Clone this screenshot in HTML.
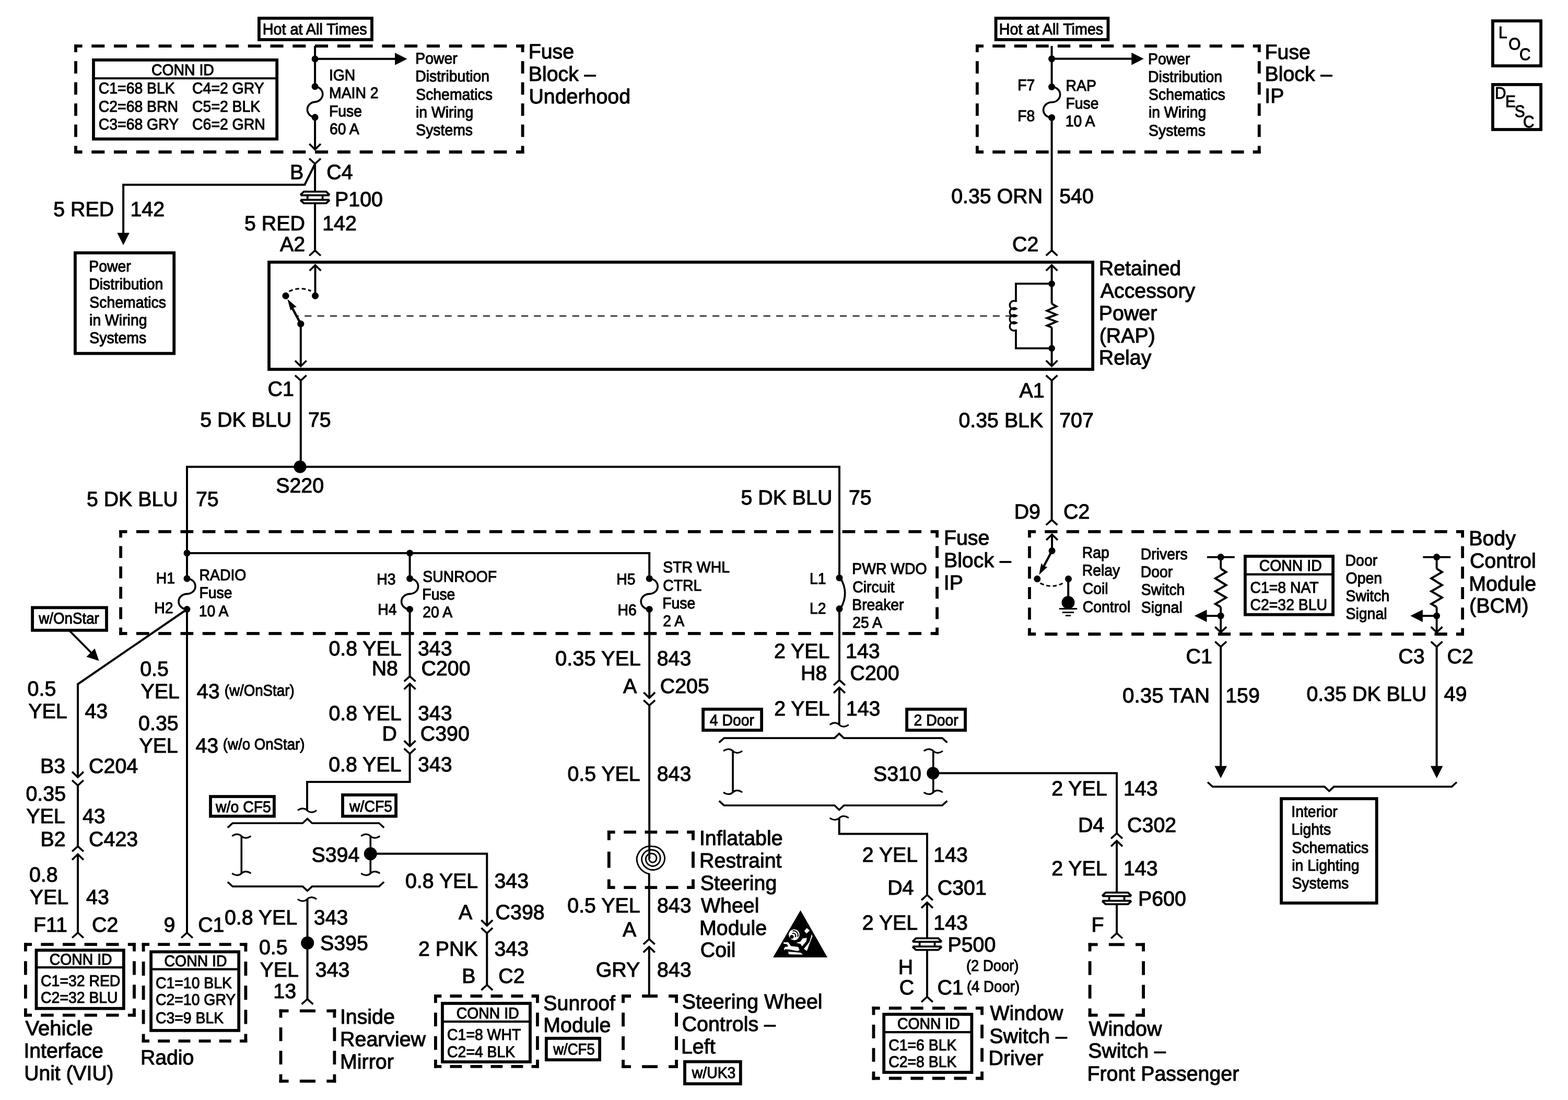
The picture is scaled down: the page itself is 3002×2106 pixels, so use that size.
<!DOCTYPE html>
<html lang="en">
<head>
<meta charset="utf-8">
<title>Retained Accessory Power (RAP) Schematic</title>
<style>
html,body{margin:0;padding:0;background:#fff;}
body{width:3002px;height:2106px;overflow:hidden;}
svg{display:block;}
svg path,svg line,svg rect{fill:none;stroke:#000;}
svg .k{fill:#000;stroke:none;}
svg .w{fill:#fff;stroke:none;}
svg text{font-family:"Liberation Sans",sans-serif;text-rendering:geometricPrecision;fill:#000;stroke:#000;stroke-width:1.1px;stroke-linejoin:round;white-space:pre;}
svg text.L{font-size:39.7px;}
svg text.S{font-size:30.0px;stroke-width:1.1px;}
svg text.M{font-size:32.0px;}
</style>
</head>
<body>
<svg width="3002" height="2106" viewBox="0 0 3002 2106">
<rect class="w" x="0" y="0" width="3002" height="2106"/>
<g id="lines">
<rect x="495.9" y="34.9" width="216.1" height="41" stroke-width="5.8"/>
<line x1="142.1" y1="88.2" x2="1003.5" y2="88.2" stroke-width="5.8" stroke-dasharray="25.03 17.75" stroke-dashoffset="9.61"/>
<line x1="142.1" y1="291" x2="1003.5" y2="291" stroke-width="5.8" stroke-dasharray="25.03 17.75" stroke-dashoffset="9.61"/>
<line x1="145" y1="85.3" x2="145" y2="293.9" stroke-width="5.8" stroke-dasharray="23.73 16.83" stroke-dashoffset="8.96"/>
<line x1="1000.6" y1="85.3" x2="1000.6" y2="293.9" stroke-width="5.8" stroke-dasharray="23.73 16.83" stroke-dashoffset="8.96"/>
<rect x="179" y="114.8" width="351.2" height="151.3" stroke-width="5.8"/>
<path d="M178.1,150 L531.1,150" stroke-width="4.2" stroke-linecap="butt" stroke-linejoin="miter"/>
<path d="M603.1,88 L603.1,165.6" stroke-width="4" stroke-linecap="butt" stroke-linejoin="miter"/>
<circle class="k" cx="603.1" cy="112.8" r="6.5"/>
<path d="M603.1,112.8 L758,112.8" stroke-width="4" stroke-linecap="butt" stroke-linejoin="miter"/>
<polygon class="k" points="756.1,101 756.1,124.6 779.6,112.8"/>
<circle class="k" cx="603.1" cy="165.6" r="6.5"/>
<circle class="k" cx="603.1" cy="224.6" r="6.5"/>
<path d="M603.1,165.6 A16,14.8 0 0 1 603.1,195.1 A16,14.8 0 0 0 603.1,224.6" stroke-width="3.6"/>
<path d="M603.1,224.6 L603.1,286.2" stroke-width="4" stroke-linecap="butt" stroke-linejoin="miter"/>
<path d="M592.2,275.5 L603.1,286.2 L614,275.5" stroke-width="3.6" stroke-linecap="butt" stroke-linejoin="miter"/>
<path d="M592.2,303.6 L603.1,313.5 L614,303.6" stroke-width="3.6" stroke-linecap="butt" stroke-linejoin="miter"/>
<path d="M603.1,313.5 L603.1,365.8" stroke-width="4" stroke-linecap="butt" stroke-linejoin="miter"/>
<path d="M575.5,373.8 L630.7,373.8" stroke-width="3.8" stroke-linecap="butt" stroke-linejoin="miter"/>
<path d="M575.1,373.4 L581.7,366.9 L624.5,366.9 L631.1,373.4" stroke-width="3.8" stroke-linecap="butt" stroke-linejoin="miter"/>
<path d="M575.5,382.7 L630.7,382.7" stroke-width="3.8" stroke-linecap="butt" stroke-linejoin="miter"/>
<path d="M575.1,383.1 L581.7,389.2 L624.5,389.2 L631.1,383.1" stroke-width="3.8" stroke-linecap="butt" stroke-linejoin="miter"/>
<path d="M588.7,373.8 L588.7,382.7" stroke-width="3.8" stroke-linecap="butt" stroke-linejoin="miter"/>
<path d="M617.6,373.8 L617.6,382.7" stroke-width="3.8" stroke-linecap="butt" stroke-linejoin="miter"/>
<path d="M603.1,390.3 L603.1,480" stroke-width="4" stroke-linecap="butt" stroke-linejoin="miter"/>
<path d="M592.2,489.5 L603.1,479.6 L614,489.5" stroke-width="3.6" stroke-linecap="butt" stroke-linejoin="miter"/>
<path d="M603.1,314 L583.3,353.7 L236.1,353.7 L236.1,447" stroke-width="4" stroke-linecap="butt" stroke-linejoin="miter"/>
<polygon class="k" points="224.3,445.8 247.9,445.8 236.1,469.3"/>
<rect x="143.9" y="484.1" width="189.3" height="192.6" stroke-width="5.8"/>
<rect x="1906.6" y="34.9" width="214.9" height="41" stroke-width="5.8"/>
<line x1="1868" y1="88.2" x2="2413.7" y2="88.2" stroke-width="5.8" stroke-dasharray="24.30 17.24" stroke-dashoffset="9.25"/>
<line x1="1868" y1="291" x2="2413.7" y2="291" stroke-width="5.8" stroke-dasharray="24.30 17.24" stroke-dashoffset="9.25"/>
<line x1="1870.9" y1="85.3" x2="1870.9" y2="293.9" stroke-width="5.8" stroke-dasharray="23.73 16.83" stroke-dashoffset="8.96"/>
<line x1="2410.8" y1="85.3" x2="2410.8" y2="293.9" stroke-width="5.8" stroke-dasharray="23.73 16.83" stroke-dashoffset="8.96"/>
<path d="M2013.6,88 L2013.6,166" stroke-width="4" stroke-linecap="butt" stroke-linejoin="miter"/>
<circle class="k" cx="2013.6" cy="112.6" r="6.5"/>
<path d="M2013.6,112.6 L2168,112.6" stroke-width="4" stroke-linecap="butt" stroke-linejoin="miter"/>
<polygon class="k" points="2166.3,100.8 2166.3,124.4 2189.8,112.6"/>
<circle class="k" cx="2013.6" cy="166.3" r="6.5"/>
<circle class="k" cx="2013.6" cy="225.2" r="6.5"/>
<path d="M2013.6,166.3 A16,14.7 0 0 1 2013.6,195.8 A16,14.7 0 0 0 2013.6,225.2" stroke-width="3.6"/>
<path d="M2013.6,225.2 L2013.6,480" stroke-width="4" stroke-linecap="butt" stroke-linejoin="miter"/>
<path d="M2002.7,489.3 L2013.6,479.4 L2024.5,489.3" stroke-width="3.6" stroke-linecap="butt" stroke-linejoin="miter"/>
<rect x="2857.9" y="40" width="92.2" height="86.1" stroke-width="5.8"/>
<rect x="2857.9" y="161.9" width="92.2" height="86.1" stroke-width="5.8"/>
<rect x="515" y="501.9" width="1577.1" height="205.2" stroke-width="5.8"/>
<path d="M592.6,518.3 L603.5,507.6 L614.4,518.3" stroke-width="3.6" stroke-linecap="butt" stroke-linejoin="miter"/>
<path d="M603.5,507.6 L603.5,566.4" stroke-width="4" stroke-linecap="butt" stroke-linejoin="miter"/>
<circle class="k" cx="603.5" cy="566.4" r="6.6"/>
<circle class="k" cx="547" cy="566.4" r="6.6"/>
<path d="M553.5,557.8 Q574.5,548.0 595.4,557.0" stroke-width="3" stroke-dasharray="7.5 5"/>
<circle class="k" cx="575.8" cy="620.1" r="6.6"/>
<path d="M575.8,620.1 L556,583" stroke-width="4.4" stroke-linecap="butt" stroke-linejoin="miter"/>
<polygon class="k" points="550.2,572.6 567.9,587.7 561.6,589.3 556.3,594.3"/>
<path d="M575.8,620.1 L575.8,701.2" stroke-width="4" stroke-linecap="butt" stroke-linejoin="miter"/>
<path d="M564.9,690.5 L575.8,701.2 L586.7,690.5" stroke-width="3.6" stroke-linecap="butt" stroke-linejoin="miter"/>
<line x1="568.3" y1="605" x2="1935" y2="605" stroke-width="2" stroke-dasharray="13.2 11.2" stroke-dashoffset="9.5"/>
<path d="M2002.7,518.3 L2013.6,507.6 L2024.5,518.3" stroke-width="3.6" stroke-linecap="butt" stroke-linejoin="miter"/>
<path d="M2013.6,507.6 L2013.6,581.5" stroke-width="4" stroke-linecap="butt" stroke-linejoin="miter"/>
<circle class="k" cx="2013.6" cy="543.2" r="6.3"/>
<circle class="k" cx="2013.6" cy="666.9" r="6.3"/>
<path d="M2013.6,543.2 L1945,543.2 L1945,578" stroke-width="3.8" stroke-linecap="butt" stroke-linejoin="miter"/>
<path d="M2013.6,666.9 L1945,666.9 L1945,631" stroke-width="3.8" stroke-linecap="butt" stroke-linejoin="miter"/>
<path d="M1946,577.3 A8.2,8.2 0 1 0 1946,590.9 A8.2,8.2 0 1 0 1946,604.5 A8.2,8.2 0 1 0 1946,618.1 A8.2,8.2 0 1 0 1946,631.7" stroke-width="3.4"/>
<path d="M2013.6,581.5 L2022.6,586.5 L2004.6,594.9 L2022.6,602.4 L2004.6,609.1 L2022.6,615.8 L2004.6,623.4 L2013.6,626.7" stroke-width="3.8" stroke-linecap="butt" stroke-linejoin="miter"/>
<path d="M2013.6,626.7 L2013.6,701" stroke-width="4" stroke-linecap="butt" stroke-linejoin="miter"/>
<path d="M2002.7,690.3 L2013.6,701 L2024.5,690.3" stroke-width="3.6" stroke-linecap="butt" stroke-linejoin="miter"/>
<path d="M564.9,718.6 L575.8,728.5 L586.7,718.6" stroke-width="3.6" stroke-linecap="butt" stroke-linejoin="miter"/>
<path d="M575.8,728.5 L575.8,893.8" stroke-width="4" stroke-linecap="butt" stroke-linejoin="miter"/>
<circle class="k" cx="574.5" cy="893.7" r="12.1"/>
<path d="M358,1058.9 L358,893.8 L1607,893.8 L1607,1106.4" stroke-width="4" stroke-linecap="butt" stroke-linejoin="miter"/>
<path d="M2002.7,718.6 L2013.6,728.5 L2024.5,718.6" stroke-width="3.6" stroke-linecap="butt" stroke-linejoin="miter"/>
<path d="M2013.6,728.5 L2013.6,996" stroke-width="4" stroke-linecap="butt" stroke-linejoin="miter"/>
<path d="M2002.7,1005.2 L2013.6,995.3 L2024.5,1005.2" stroke-width="3.6" stroke-linecap="butt" stroke-linejoin="miter"/>
<line x1="228.2" y1="1017.8" x2="1797" y2="1017.8" stroke-width="5.8" stroke-dasharray="24.71 17.53" stroke-dashoffset="9.46"/>
<line x1="228.2" y1="1212.8" x2="1797" y2="1212.8" stroke-width="5.8" stroke-dasharray="24.71 17.53" stroke-dashoffset="9.46"/>
<line x1="231.1" y1="1014.9" x2="231.1" y2="1215.7" stroke-width="5.8" stroke-dasharray="22.81 16.19" stroke-dashoffset="8.51"/>
<line x1="1794.1" y1="1014.9" x2="1794.1" y2="1215.7" stroke-width="5.8" stroke-dasharray="22.81 16.19" stroke-dashoffset="8.51"/>
<path d="M358,1058.9 L1243.2,1058.9 L1243.2,1107.7" stroke-width="4" stroke-linecap="butt" stroke-linejoin="miter"/>
<circle class="k" cx="358" cy="1058.9" r="6.5"/>
<circle class="k" cx="784.6" cy="1058.9" r="6.5"/>
<path d="M358,1058.9 L358,1107.7" stroke-width="4" stroke-linecap="butt" stroke-linejoin="miter"/>
<path d="M784.6,1058.9 L784.6,1107.7" stroke-width="4" stroke-linecap="butt" stroke-linejoin="miter"/>
<circle class="k" cx="358" cy="1107.7" r="6.5"/>
<circle class="k" cx="358" cy="1166.5" r="6.5"/>
<path d="M358,1107.7 A16,14.7 0 0 1 358,1137.1 A16,14.7 0 0 0 358,1166.5" stroke-width="3.6"/>
<circle class="k" cx="784.6" cy="1107.7" r="6.5"/>
<circle class="k" cx="784.6" cy="1166.5" r="6.5"/>
<path d="M784.6,1107.7 A16,14.7 0 0 1 784.6,1137.1 A16,14.7 0 0 0 784.6,1166.5" stroke-width="3.6"/>
<circle class="k" cx="1243.2" cy="1107.7" r="6.5"/>
<circle class="k" cx="1243.2" cy="1166.5" r="6.5"/>
<path d="M1243.2,1107.7 A16,14.7 0 0 1 1243.2,1137.1 A16,14.7 0 0 0 1243.2,1166.5" stroke-width="3.6"/>
<circle class="k" cx="1607" cy="1106.4" r="6.5"/>
<circle class="k" cx="1607" cy="1165.6" r="6.5"/>
<path d="M1609,1106.4 Q1626.5,1136 1609,1165.6" stroke-width="3.6"/>
<rect x="62.1" y="1163.3" width="141.9" height="43.4" stroke-width="5.8"/>
<path d="M133.5,1208 L177,1252" stroke-width="3.8" stroke-linecap="butt" stroke-linejoin="miter"/>
<polygon class="k" points="189.5,1265.3 165.5,1257.5 181.5,1241.5"/>
<path d="M358,1166.5 L358,1786" stroke-width="4" stroke-linecap="butt" stroke-linejoin="miter"/>
<path d="M347.1,1795.5 L358,1785.6 L368.9,1795.5" stroke-width="3.6" stroke-linecap="butt" stroke-linejoin="miter"/>
<path d="M358,1166.5 L149,1309.8 L149,1488.3" stroke-width="4" stroke-linecap="butt" stroke-linejoin="miter"/>
<path d="M138.1,1477.6 L149,1488.3 L159.9,1477.6" stroke-width="3.6" stroke-linecap="butt" stroke-linejoin="miter"/>
<path d="M138.1,1493.9 L149,1503.8 L159.9,1493.9" stroke-width="3.6" stroke-linecap="butt" stroke-linejoin="miter"/>
<path d="M149,1503.8 L149,1620.8" stroke-width="4" stroke-linecap="butt" stroke-linejoin="miter"/>
<path d="M138.1,1630.2 L149,1620.3 L159.9,1630.2" stroke-width="3.6" stroke-linecap="butt" stroke-linejoin="miter"/>
<path d="M138.1,1646.1 L149,1635.4 L159.9,1646.1" stroke-width="3.6" stroke-linecap="butt" stroke-linejoin="miter"/>
<path d="M149,1635.4 L149,1786" stroke-width="4" stroke-linecap="butt" stroke-linejoin="miter"/>
<path d="M138.1,1795.5 L149,1785.6 L159.9,1795.5" stroke-width="3.6" stroke-linecap="butt" stroke-linejoin="miter"/>
<line x1="46" y1="1808.2" x2="259.9" y2="1808.2" stroke-width="5.8" stroke-dasharray="24.35 17.27" stroke-dashoffset="9.27"/>
<line x1="46" y1="1943.6" x2="259.9" y2="1943.6" stroke-width="5.8" stroke-dasharray="24.35 17.27" stroke-dashoffset="9.27"/>
<line x1="48.9" y1="1805.3" x2="48.9" y2="1946.5" stroke-width="5.8" stroke-dasharray="26.40 18.73" stroke-dashoffset="10.30"/>
<line x1="257" y1="1805.3" x2="257" y2="1946.5" stroke-width="5.8" stroke-dasharray="26.40 18.73" stroke-dashoffset="10.30"/>
<rect x="69.5" y="1819.2" width="167.3" height="111.6" stroke-width="5.8"/>
<path d="M68.6,1852.2 L237.7,1852.2" stroke-width="4.2" stroke-linecap="butt" stroke-linejoin="miter"/>
<line x1="271.7" y1="1808.2" x2="473.3" y2="1808.2" stroke-width="5.8" stroke-dasharray="22.91 16.25" stroke-dashoffset="8.55"/>
<line x1="271.7" y1="1993.1" x2="473.3" y2="1993.1" stroke-width="5.8" stroke-dasharray="22.91 16.25" stroke-dashoffset="8.55"/>
<line x1="274.6" y1="1805.3" x2="274.6" y2="1996" stroke-width="5.8" stroke-dasharray="27.04 19.18" stroke-dashoffset="10.62"/>
<line x1="470.4" y1="1805.3" x2="470.4" y2="1996" stroke-width="5.8" stroke-dasharray="27.04 19.18" stroke-dashoffset="10.62"/>
<rect x="289.1" y="1822.3" width="168.1" height="150.6" stroke-width="5.8"/>
<path d="M288.2,1855.7 L458.1,1855.7" stroke-width="4.2" stroke-linecap="butt" stroke-linejoin="miter"/>
<path d="M784.6,1166.5 L784.6,1295.5" stroke-width="4" stroke-linecap="butt" stroke-linejoin="miter"/>
<path d="M773.7,1304.7 L784.6,1294.8 L795.5,1304.7" stroke-width="3.6" stroke-linecap="butt" stroke-linejoin="miter"/>
<path d="M773.7,1319.6 L784.6,1308.9 L795.5,1319.6" stroke-width="3.6" stroke-linecap="butt" stroke-linejoin="miter"/>
<path d="M784.6,1308.9 L784.6,1428.8" stroke-width="4" stroke-linecap="butt" stroke-linejoin="miter"/>
<path d="M773.7,1418.1 L784.6,1428.8 L795.5,1418.1" stroke-width="3.6" stroke-linecap="butt" stroke-linejoin="miter"/>
<path d="M773.7,1433.1 L784.6,1443 L795.5,1433.1" stroke-width="3.6" stroke-linecap="butt" stroke-linejoin="miter"/>
<path d="M784.6,1443 L784.6,1497 L588,1497 L588,1551" stroke-width="4" stroke-linecap="butt" stroke-linejoin="miter"/>
<path d="M571,1550.8 C577.5,1546.2 584.6,1547.7 588,1551.5 S598.5,1556.8 605,1552.2" stroke-width="3.2" stroke-linecap="round"/>
<rect x="403" y="1525" width="121.9" height="37.7" stroke-width="5.8"/>
<rect x="656" y="1521.9" width="102.1" height="40.8" stroke-width="5.8"/>
<path d="M435.8,1584.6 L445.3,1576 L579.5,1576 L588.5,1567.5 L597.5,1576 L725.7,1576 L735.2,1584.6" stroke-width="3.6" stroke-linecap="butt" stroke-linejoin="miter"/>
<path d="M462.3,1600.7 L462.3,1672.1" stroke-width="3.6" stroke-linecap="butt" stroke-linejoin="miter"/>
<path d="M445.3,1600 C451.8,1595.5 458.9,1596.9 462.3,1600.7 S472.8,1606 479.3,1601.4" stroke-width="3.2" stroke-linecap="round"/>
<path d="M445.3,1672.8 C451.8,1677.3 458.9,1675.9 462.3,1672.1 S472.8,1666.8 479.3,1671.4" stroke-width="3.2" stroke-linecap="round"/>
<path d="M709.3,1600.7 L709.3,1672.1" stroke-width="3.6" stroke-linecap="butt" stroke-linejoin="miter"/>
<path d="M692.3,1600 C698.8,1595.5 705.9,1596.9 709.3,1600.7 S719.8,1606 726.3,1601.4" stroke-width="3.2" stroke-linecap="round"/>
<path d="M692.3,1672.8 C698.8,1677.3 705.9,1675.9 709.3,1672.1 S719.8,1666.8 726.3,1671.4" stroke-width="3.2" stroke-linecap="round"/>
<circle class="k" cx="709.3" cy="1634.6" r="12.5"/>
<path d="M435.8,1688.5 L445.3,1697.1 L579.5,1697.1 L588.5,1705.6 L597.5,1697.1 L725.7,1697.1 L735.2,1688.5" stroke-width="3.6" stroke-linecap="butt" stroke-linejoin="miter"/>
<path d="M571,1722.2 C577.5,1726.8 584.6,1725.3 588,1721.5 S598.5,1716.2 605,1720.8" stroke-width="3.2" stroke-linecap="round"/>
<path d="M588.5,1721.5 L588.5,1913" stroke-width="4" stroke-linecap="butt" stroke-linejoin="miter"/>
<circle class="k" cx="588.7" cy="1805.3" r="12.5"/>
<path d="M577.6,1922.6 L588.5,1912.7 L599.4,1922.6" stroke-width="3.6" stroke-linecap="butt" stroke-linejoin="miter"/>
<line x1="534.6" y1="1935.3" x2="643.3" y2="1935.3" stroke-width="5.8" stroke-dasharray="30.10 21.35" stroke-dashoffset="12.15"/>
<line x1="534.6" y1="2069.8" x2="643.3" y2="2069.8" stroke-width="5.8" stroke-dasharray="30.10 21.35" stroke-dashoffset="12.15"/>
<line x1="537.5" y1="1932.4" x2="537.5" y2="2072.7" stroke-width="5.8" stroke-dasharray="26.23 18.61" stroke-dashoffset="10.21"/>
<line x1="640.4" y1="1932.4" x2="640.4" y2="2072.7" stroke-width="5.8" stroke-dasharray="26.23 18.61" stroke-dashoffset="10.21"/>
<path d="M709.3,1634.4 L932.3,1634.4 L932.3,1772.3" stroke-width="4" stroke-linecap="butt" stroke-linejoin="miter"/>
<path d="M921.4,1761.6 L932.3,1772.3 L943.2,1761.6" stroke-width="3.6" stroke-linecap="butt" stroke-linejoin="miter"/>
<path d="M921.4,1776.6 L932.3,1786.5 L943.2,1776.6" stroke-width="3.6" stroke-linecap="butt" stroke-linejoin="miter"/>
<path d="M932.3,1786.5 L932.3,1886" stroke-width="4" stroke-linecap="butt" stroke-linejoin="miter"/>
<path d="M921.4,1895.6 L932.3,1885.7 L943.2,1895.6" stroke-width="3.6" stroke-linecap="butt" stroke-linejoin="miter"/>
<line x1="831" y1="1907" x2="1031.9" y2="1907" stroke-width="5.8" stroke-dasharray="22.83 16.19" stroke-dashoffset="8.51"/>
<line x1="831" y1="2041.8" x2="1031.9" y2="2041.8" stroke-width="5.8" stroke-dasharray="22.83 16.19" stroke-dashoffset="8.51"/>
<line x1="833.9" y1="1904.1" x2="833.9" y2="2044.7" stroke-width="5.8" stroke-dasharray="26.29 18.65" stroke-dashoffset="10.24"/>
<line x1="1029" y1="1904.1" x2="1029" y2="2044.7" stroke-width="5.8" stroke-dasharray="26.29 18.65" stroke-dashoffset="10.24"/>
<rect x="847" y="1921" width="168" height="112" stroke-width="5.8"/>
<path d="M846.1,1955.9 L1015.9,1955.9" stroke-width="4.2" stroke-linecap="butt" stroke-linejoin="miter"/>
<rect x="1045.9" y="1987.9" width="102.2" height="41.2" stroke-width="5.8"/>
<path d="M1243.2,1166.5 L1243.2,1336.3" stroke-width="4" stroke-linecap="butt" stroke-linejoin="miter"/>
<path d="M1232.3,1325.6 L1243.2,1336.3 L1254.1,1325.6" stroke-width="3.6" stroke-linecap="butt" stroke-linejoin="miter"/>
<path d="M1232.3,1340.6 L1243.2,1350.5 L1254.1,1340.6" stroke-width="3.6" stroke-linecap="butt" stroke-linejoin="miter"/>
<path d="M1243.2,1350.5 L1243.2,1644" stroke-width="4" stroke-linecap="butt" stroke-linejoin="miter"/>
<line x1="1162.9" y1="1593.1" x2="1329.9" y2="1593.1" stroke-width="5.8" stroke-dasharray="23.58 16.72" stroke-dashoffset="8.89"/>
<line x1="1162.9" y1="1699.1" x2="1329.9" y2="1699.1" stroke-width="5.8" stroke-dasharray="23.58 16.72" stroke-dashoffset="8.89"/>
<line x1="1165.8" y1="1590.2" x2="1165.8" y2="1702" stroke-width="5.8" stroke-dasharray="31.00 21.99" stroke-dashoffset="12.60"/>
<line x1="1327" y1="1590.2" x2="1327" y2="1702" stroke-width="5.8" stroke-dasharray="31.00 21.99" stroke-dashoffset="12.60"/>
<path d="M1242.9,1673.2 L1240.0,1672.5 L1237.3,1671.4 L1234.6,1670.1 L1232.1,1668.5 L1229.8,1666.7 L1227.6,1664.7 L1225.7,1662.5 L1223.9,1660.1 L1222.5,1657.6 L1221.2,1654.9 L1220.3,1652.1 L1219.6,1649.2 L1219.2,1646.3 L1219.1,1643.4 L1219.8,1640.1 L1220.8,1636.9 L1222.2,1633.9 L1223.9,1631.2 L1225.9,1628.7 L1228.1,1626.5 L1230.5,1624.6 L1233.0,1623.1 L1235.7,1621.8 L1238.4,1620.9 L1241.2,1620.3 L1243.9,1620.0 L1246.6,1620.1 L1249.2,1620.5 L1251.8,1620.6 L1254.4,1621.0 L1256.9,1621.7 L1259.3,1622.6 L1261.5,1623.9 L1263.7,1625.3 L1265.6,1627.0 L1267.4,1628.9 L1268.9,1631.0 L1270.2,1633.3 L1271.2,1635.7 L1272.0,1638.2 L1272.5,1640.8 L1272.6,1643.4 L1272.4,1646.0 L1271.9,1648.6 L1271.1,1651.0 L1270.0,1653.4 L1268.7,1655.6 L1267.1,1657.6 L1265.3,1659.5 L1263.4,1661.1 L1261.3,1662.5 L1259.0,1663.7 L1256.6,1664.5 L1254.2,1665.1 L1251.7,1665.5 L1249.2,1665.5 L1246.8,1665.3 L1244.4,1664.8 L1242.1,1664.0 L1239.8,1662.9 L1237.8,1661.7 L1235.9,1660.2 L1234.1,1658.5 L1232.6,1656.7 L1231.3,1654.7 L1230.3,1652.5 L1229.5,1650.3 L1228.9,1648.0 L1228.6,1645.7 L1228.6,1643.4 L1229.0,1641.1 L1229.7,1638.9 L1230.7,1636.9 L1231.8,1635.0 L1233.1,1633.3 L1234.6,1631.7 L1236.2,1630.4 L1238.0,1629.3 L1239.8,1628.4 L1241.7,1627.7 L1243.6,1627.3 L1245.5,1627.0 L1247.4,1627.0 L1249.2,1627.3 L1251.0,1627.5 L1252.8,1627.8 L1254.5,1628.4 L1256.1,1629.2 L1257.6,1630.1 L1259.0,1631.2 L1260.2,1632.4 L1261.3,1633.8 L1262.2,1635.3 L1263.0,1636.8 L1263.5,1638.4 L1263.9,1640.1 L1264.1,1641.7 L1264.1,1643.4 L1264.0,1645.1 L1263.7,1646.7 L1263.3,1648.3 L1262.6,1649.8 L1261.8,1651.3 L1260.9,1652.7 L1259.7,1653.9 L1258.5,1655.0 L1257.1,1656.0 L1255.7,1656.8 L1254.2,1657.4 L1252.6,1657.9 L1250.9,1658.2 L1249.2,1658.2 L1247.6,1658.0 L1246.0,1657.6 L1244.5,1657.0 L1243.0,1656.3 L1241.7,1655.4 L1240.5,1654.4 L1239.4,1653.2 L1238.5,1652.0 L1237.7,1650.6 L1237.1,1649.2 L1236.7,1647.8 L1236.4,1646.3 L1236.3,1644.9 L1236.3,1643.4 L1236.7,1642.0 L1237.2,1640.7 L1237.8,1639.4 L1238.6,1638.3 L1239.5,1637.3 L1240.5,1636.4 L1241.5,1635.6 L1242.6,1635.0 L1243.7,1634.6 L1244.8,1634.3 L1246.0,1634.1 L1247.1,1634.1 L1248.2,1634.1 L1249.2,1634.4 L1250.3,1634.5 L1251.2,1634.8 L1252.1,1635.2 L1253.0,1635.6 L1253.8,1636.2 L1254.5,1636.8 L1255.1,1637.5 L1255.7,1638.3 L1256.1,1639.1 L1256.5,1639.9 L1256.7,1640.8 L1256.8,1641.7 L1256.9,1642.5 L1256.8,1643.4 L1256.8,1644.3 L1256.7,1645.1 L1256.4,1645.9 L1256.1,1646.7 L1255.7,1647.5 L1255.2,1648.2 L1254.7,1648.8 L1254.0,1649.4 L1253.3,1649.9 L1252.6,1650.3 L1251.8,1650.7 L1251.0,1650.9 L1250.1,1651.1 L1249.2,1651.1 L1248.4,1651.0 L1247.6,1650.8 L1246.8,1650.5 L1246.0,1650.0 L1245.4,1649.6 L1244.8,1649.0 L1244.2,1648.4 L1243.8,1647.8 L1243.4,1647.1 L1243.1,1646.4 L1242.9,1645.6 L1242.8,1644.9 L1242.7,1644.1 L1242.8,1643.4" stroke-width="2.9" stroke-linejoin="round" stroke-linecap="round"/>
<path d="M1242.8,1672.5 L1242.8,1798.5" stroke-width="4" stroke-linecap="butt" stroke-linejoin="miter"/>
<path d="M1231.9,1807.9 L1242.8,1798 L1253.7,1807.9" stroke-width="3.6" stroke-linecap="butt" stroke-linejoin="miter"/>
<path d="M1231.9,1823.4 L1242.8,1812.7 L1253.7,1823.4" stroke-width="3.6" stroke-linecap="butt" stroke-linejoin="miter"/>
<path d="M1242.8,1812.7 L1242.8,1907" stroke-width="4" stroke-linecap="butt" stroke-linejoin="miter"/>
<line x1="1190.2" y1="1907" x2="1298" y2="1907" stroke-width="5.8" stroke-dasharray="29.83 21.16" stroke-dashoffset="12.02"/>
<line x1="1190.2" y1="2042.1" x2="1298" y2="2042.1" stroke-width="5.8" stroke-dasharray="29.83 21.16" stroke-dashoffset="12.02"/>
<line x1="1193.1" y1="1904.1" x2="1193.1" y2="2045" stroke-width="5.8" stroke-dasharray="26.34 18.69" stroke-dashoffset="10.27"/>
<line x1="1295.1" y1="1904.1" x2="1295.1" y2="2045" stroke-width="5.8" stroke-dasharray="26.34 18.69" stroke-dashoffset="10.27"/>
<rect x="1311" y="2032.6" width="106.8" height="42.4" stroke-width="5.8"/>
<polygon class="k" points="1532.6,1742.8 1584.1,1833 1480,1833"/>
<g class="w"><circle cx="1520.4" cy="1789.6" r="10.4"/><polygon points="1544.7,1776.8 1550.3,1781.6 1544,1787.2 1539.8,1782.2"/><polygon points="1536.9,1796.5 1544.7,1795.6 1543.9,1801.7 1535.6,1811.7 1532.6,1806.9 1524,1805 1532,1803"/><polygon points="1553.9,1789.1 1555.6,1792.1 1544.7,1820.8 1539.1,1816.5 1550,1803"/><polygon points="1500,1803.9 1509.1,1803.9 1514.3,1811.3 1528.2,1813 1530.8,1819.1 1526.5,1820.8 1510.8,1817.8 1503,1817.3 1502.1,1820 1500.8,1816.5 1503,1813 1509.1,1812.1 1506.5,1807.4 1500.4,1806.9"/><polygon points="1509.1,1822.1 1533.4,1823.9 1536.9,1827.8 1510,1826.9"/></g>
<g><path d="M1517.6,1782.2 A8.4,8.4 0 0 1 1527.2,1793.4" stroke-width="2"/><path d="M1516.6,1787.2 A4.8,4.8 0 0 1 1522.6,1794.2" stroke-width="2"/><circle class="k" cx="1516" cy="1793.6" r="3.6"/><path d="M1515,1795 L1509.5,1799.5" stroke-width="2.6"/></g>
<path d="M1607,1165.6 L1607,1302.5" stroke-width="4" stroke-linecap="butt" stroke-linejoin="miter"/>
<path d="M1596.1,1311.9 L1607,1302 L1617.9,1311.9" stroke-width="3.6" stroke-linecap="butt" stroke-linejoin="miter"/>
<path d="M1596.1,1326.9 L1607,1316.2 L1617.9,1326.9" stroke-width="3.6" stroke-linecap="butt" stroke-linejoin="miter"/>
<path d="M1607,1316.2 L1606.7,1387" stroke-width="4" stroke-linecap="butt" stroke-linejoin="miter"/>
<path d="M1589.7,1386.8 C1596.2,1382.2 1603.3,1383.7 1606.7,1387.5 S1617.2,1392.8 1623.7,1388.2" stroke-width="3.2" stroke-linecap="round"/>
<rect x="1346.1" y="1357.8" width="112" height="40.2" stroke-width="5.8"/>
<rect x="1736.1" y="1357.8" width="112" height="40.2" stroke-width="5.8"/>
<path d="M1376.7,1421.7 L1386.2,1413.1 L1597.7,1413.1 L1606.7,1404.6 L1615.7,1413.1 L1803.9,1413.1 L1813.4,1421.7" stroke-width="3.6" stroke-linecap="butt" stroke-linejoin="miter"/>
<path d="M1403.1,1437.8 L1403.1,1516.9" stroke-width="3.6" stroke-linecap="butt" stroke-linejoin="miter"/>
<path d="M1386.1,1437.1 C1392.6,1432.5 1399.7,1434 1403.1,1437.8 S1413.6,1443 1420.1,1438.5" stroke-width="3.2" stroke-linecap="round"/>
<path d="M1386.1,1517.6 C1392.6,1522.2 1399.7,1520.8 1403.1,1516.9 S1413.6,1511.7 1420.1,1516.2" stroke-width="3.2" stroke-linecap="round"/>
<path d="M1786.8,1437.8 L1786.8,1516.9" stroke-width="3.6" stroke-linecap="butt" stroke-linejoin="miter"/>
<path d="M1769.8,1437.1 C1776.3,1432.5 1783.4,1434 1786.8,1437.8 S1797.3,1443 1803.8,1438.5" stroke-width="3.2" stroke-linecap="round"/>
<path d="M1769.8,1517.6 C1776.3,1522.2 1783.4,1520.8 1786.8,1516.9 S1797.3,1511.7 1803.8,1516.2" stroke-width="3.2" stroke-linecap="round"/>
<circle class="k" cx="1786.3" cy="1480.2" r="12"/>
<path d="M1376.7,1533.4 L1386.2,1542 L1597.7,1542 L1606.7,1550.5 L1615.7,1542 L1803.9,1542 L1813.4,1533.4" stroke-width="3.6" stroke-linecap="butt" stroke-linejoin="miter"/>
<path d="M1589.7,1566.7 C1596.2,1571.2 1603.3,1569.8 1606.7,1566 S1617.2,1560.8 1623.7,1565.3" stroke-width="3.2" stroke-linecap="round"/>
<path d="M1606.7,1566 L1606.7,1596.6 L1775,1596.6 L1775,1714" stroke-width="4" stroke-linecap="butt" stroke-linejoin="miter"/>
<path d="M1764.1,1723.4 L1775,1713.5 L1785.9,1723.4" stroke-width="3.6" stroke-linecap="butt" stroke-linejoin="miter"/>
<path d="M1764.1,1738.4 L1775,1727.7 L1785.9,1738.4" stroke-width="3.6" stroke-linecap="butt" stroke-linejoin="miter"/>
<path d="M1775,1727.7 L1775,1795.2" stroke-width="4" stroke-linecap="butt" stroke-linejoin="miter"/>
<path d="M1747.4,1803.2 L1802.6,1803.2" stroke-width="3.8" stroke-linecap="butt" stroke-linejoin="miter"/>
<path d="M1747,1802.8 L1753.6,1796.3 L1796.4,1796.3 L1803,1802.8" stroke-width="3.8" stroke-linecap="butt" stroke-linejoin="miter"/>
<path d="M1747.4,1812.1 L1802.6,1812.1" stroke-width="3.8" stroke-linecap="butt" stroke-linejoin="miter"/>
<path d="M1747,1812.5 L1753.6,1818.6 L1796.4,1818.6 L1803,1812.5" stroke-width="3.8" stroke-linecap="butt" stroke-linejoin="miter"/>
<path d="M1760.6,1803.2 L1760.6,1812.1" stroke-width="3.8" stroke-linecap="butt" stroke-linejoin="miter"/>
<path d="M1789.5,1803.2 L1789.5,1812.1" stroke-width="3.8" stroke-linecap="butt" stroke-linejoin="miter"/>
<path d="M1775,1819.8 L1775,1909" stroke-width="4" stroke-linecap="butt" stroke-linejoin="miter"/>
<path d="M1764.1,1918.4 L1775,1908.5 L1785.9,1918.4" stroke-width="3.6" stroke-linecap="butt" stroke-linejoin="miter"/>
<line x1="1669.6" y1="1930.1" x2="1883" y2="1930.1" stroke-width="5.8" stroke-dasharray="24.29 17.23" stroke-dashoffset="9.24"/>
<line x1="1669.6" y1="2064.5" x2="1883" y2="2064.5" stroke-width="5.8" stroke-dasharray="24.29 17.23" stroke-dashoffset="9.24"/>
<line x1="1672.5" y1="1927.2" x2="1672.5" y2="2067.4" stroke-width="5.8" stroke-dasharray="26.21 18.59" stroke-dashoffset="10.20"/>
<line x1="1880.1" y1="1927.2" x2="1880.1" y2="2067.4" stroke-width="5.8" stroke-dasharray="26.21 18.59" stroke-dashoffset="10.20"/>
<rect x="1692.2" y="1941.9" width="168.2" height="111.2" stroke-width="5.8"/>
<path d="M1691.3,1976.2 L1861.3,1976.2" stroke-width="4.2" stroke-linecap="butt" stroke-linejoin="miter"/>
<path d="M1786.3,1480.2 L2138.1,1480.2 L2138.1,1596" stroke-width="4" stroke-linecap="butt" stroke-linejoin="miter"/>
<path d="M2127.2,1605.4 L2138.1,1595.5 L2149,1605.4" stroke-width="3.6" stroke-linecap="butt" stroke-linejoin="miter"/>
<path d="M2127.2,1620.4 L2138.1,1609.7 L2149,1620.4" stroke-width="3.6" stroke-linecap="butt" stroke-linejoin="miter"/>
<path d="M2138.1,1609.7 L2138.1,1707.7" stroke-width="4" stroke-linecap="butt" stroke-linejoin="miter"/>
<path d="M2110.5,1715.7 L2165.7,1715.7" stroke-width="3.8" stroke-linecap="butt" stroke-linejoin="miter"/>
<path d="M2110.1,1715.3 L2116.7,1708.8 L2159.5,1708.8 L2166.1,1715.3" stroke-width="3.8" stroke-linecap="butt" stroke-linejoin="miter"/>
<path d="M2110.5,1724.6 L2165.7,1724.6" stroke-width="3.8" stroke-linecap="butt" stroke-linejoin="miter"/>
<path d="M2110.1,1725 L2116.7,1731.1 L2159.5,1731.1 L2166.1,1725" stroke-width="3.8" stroke-linecap="butt" stroke-linejoin="miter"/>
<path d="M2123.7,1715.7 L2123.7,1724.6" stroke-width="3.8" stroke-linecap="butt" stroke-linejoin="miter"/>
<path d="M2152.6,1715.7 L2152.6,1724.6" stroke-width="3.8" stroke-linecap="butt" stroke-linejoin="miter"/>
<path d="M2138.1,1732.3 L2138.1,1787" stroke-width="4" stroke-linecap="butt" stroke-linejoin="miter"/>
<path d="M2127.2,1796.5 L2138.1,1786.6 L2149,1796.5" stroke-width="3.6" stroke-linecap="butt" stroke-linejoin="miter"/>
<line x1="2083.7" y1="1808.4" x2="2192" y2="1808.4" stroke-width="5.8" stroke-dasharray="29.98 21.27" stroke-dashoffset="12.09"/>
<line x1="2083.7" y1="1943.7" x2="2192" y2="1943.7" stroke-width="5.8" stroke-dasharray="29.98 21.27" stroke-dashoffset="12.09"/>
<line x1="2086.6" y1="1805.5" x2="2086.6" y2="1946.6" stroke-width="5.8" stroke-dasharray="26.38 18.72" stroke-dashoffset="10.29"/>
<line x1="2189.1" y1="1805.5" x2="2189.1" y2="1946.6" stroke-width="5.8" stroke-dasharray="26.38 18.72" stroke-dashoffset="10.29"/>
<line x1="1968.1" y1="1017.9" x2="2803" y2="1017.9" stroke-width="5.8" stroke-dasharray="24.25 17.20" stroke-dashoffset="9.23"/>
<line x1="1968.1" y1="1214" x2="2803" y2="1214" stroke-width="5.8" stroke-dasharray="24.25 17.20" stroke-dashoffset="9.23"/>
<line x1="1971" y1="1015" x2="1971" y2="1216.9" stroke-width="5.8" stroke-dasharray="22.94 16.28" stroke-dashoffset="8.57"/>
<line x1="2800.1" y1="1015" x2="2800.1" y2="1216.9" stroke-width="5.8" stroke-dasharray="22.94 16.28" stroke-dashoffset="8.57"/>
<path d="M2003.2,1033.9 L2014.1,1023.2 L2025,1033.9" stroke-width="3.6" stroke-linecap="butt" stroke-linejoin="miter"/>
<path d="M2014.1,1023.2 L2014.1,1054.6" stroke-width="4" stroke-linecap="butt" stroke-linejoin="miter"/>
<circle class="k" cx="2014.1" cy="1054.6" r="6.5"/>
<circle class="k" cx="1985.8" cy="1108.3" r="6.5"/>
<circle class="k" cx="2045.5" cy="1108.3" r="6.5"/>
<path d="M2014.1,1054.6 L1995,1090.5" stroke-width="4.2" stroke-linecap="butt" stroke-linejoin="miter"/>
<polygon class="k" points="1989.3,1100.6 1993.5,1078.2 1998.4,1084 2005.3,1085.5"/>
<path d="M1991.5,1116.5 Q2014.6,1128.5 2039,1114.5" stroke-width="3" stroke-dasharray="7.5 5"/>
<path d="M2045.2,1108.3 L2045.2,1153.5" stroke-width="4" stroke-linecap="butt" stroke-linejoin="miter"/>
<circle class="k" cx="2045" cy="1153.5" r="12.5"/>
<path d="M2027.9,1165.6 L2062.2,1165.6" stroke-width="3" stroke-linecap="butt" stroke-linejoin="miter"/>
<path d="M2033.9,1172.5 L2056,1172.5" stroke-width="3" stroke-linecap="butt" stroke-linejoin="miter"/>
<path d="M2039.9,1178.5 L2050,1178.5" stroke-width="3" stroke-linecap="butt" stroke-linejoin="miter"/>
<path d="M2310.9,1066.6 L2363.8,1066.6" stroke-width="3.9" stroke-linecap="butt" stroke-linejoin="miter"/>
<circle class="k" cx="2337.2" cy="1066.6" r="6.5"/>
<path d="M2337.2,1066.6 L2337.2,1088.8" stroke-width="3.9" stroke-linecap="butt" stroke-linejoin="miter"/>
<path d="M2337.2,1088.8 L2347.5,1095.2 L2326.9,1107.3 L2347.5,1120.2 L2326.9,1132 L2347.5,1144.1 L2326.9,1156.2 L2337.2,1162.2" stroke-width="4" stroke-linecap="butt" stroke-linejoin="miter"/>
<path d="M2337.2,1162.2 L2337.2,1210.8" stroke-width="3.9" stroke-linecap="butt" stroke-linejoin="miter"/>
<circle class="k" cx="2337.2" cy="1179.1" r="6.5"/>
<path d="M2337.2,1179.1 L2310.2,1179.1" stroke-width="3.9" stroke-linecap="butt" stroke-linejoin="miter"/>
<polygon class="k" points="2310.5,1167.2 2310.5,1191 2286.8,1179.1"/>
<path d="M2326.3,1200.1 L2337.2,1210.8 L2348.1,1200.1" stroke-width="3.6" stroke-linecap="butt" stroke-linejoin="miter"/>
<path d="M2326.3,1228.4 L2337.2,1238.3 L2348.1,1228.4" stroke-width="3.6" stroke-linecap="butt" stroke-linejoin="miter"/>
<path d="M2337.2,1238.3 L2337.2,1467" stroke-width="4" stroke-linecap="butt" stroke-linejoin="miter"/>
<polygon class="k" points="2325.4,1466.4 2349,1466.4 2337.2,1489.9"/>
<path d="M2724.3,1066.6 L2777.2,1066.6" stroke-width="3.9" stroke-linecap="butt" stroke-linejoin="miter"/>
<circle class="k" cx="2750.6" cy="1066.6" r="6.5"/>
<path d="M2750.6,1066.6 L2750.6,1088.8" stroke-width="3.9" stroke-linecap="butt" stroke-linejoin="miter"/>
<path d="M2750.6,1088.8 L2760.9,1095.2 L2740.3,1107.3 L2760.9,1120.2 L2740.3,1132 L2760.9,1144.1 L2740.3,1156.2 L2750.6,1162.2" stroke-width="4" stroke-linecap="butt" stroke-linejoin="miter"/>
<path d="M2750.6,1162.2 L2750.6,1210.8" stroke-width="3.9" stroke-linecap="butt" stroke-linejoin="miter"/>
<circle class="k" cx="2750.6" cy="1179.1" r="6.5"/>
<path d="M2750.6,1179.1 L2723.6,1179.1" stroke-width="3.9" stroke-linecap="butt" stroke-linejoin="miter"/>
<polygon class="k" points="2723.9,1167.2 2723.9,1191 2700.2,1179.1"/>
<path d="M2739.7,1200.1 L2750.6,1210.8 L2761.5,1200.1" stroke-width="3.6" stroke-linecap="butt" stroke-linejoin="miter"/>
<path d="M2739.7,1228.4 L2750.6,1238.3 L2761.5,1228.4" stroke-width="3.6" stroke-linecap="butt" stroke-linejoin="miter"/>
<path d="M2750.6,1238.3 L2750.6,1467" stroke-width="4" stroke-linecap="butt" stroke-linejoin="miter"/>
<polygon class="k" points="2738.8,1466.4 2762.4,1466.4 2750.6,1489.9"/>
<rect x="2383.9" y="1065" width="168.2" height="111.7" stroke-width="5.8"/>
<path d="M2383,1099.7 L2553,1099.7" stroke-width="4.2" stroke-linecap="butt" stroke-linejoin="miter"/>
<path d="M2312.1,1497.5 L2321.6,1506.1 L2535.8,1506.1 L2544.8,1514.6 L2553.8,1506.1 L2779.5,1506.1 L2789,1497.5" stroke-width="3.6" stroke-linecap="butt" stroke-linejoin="miter"/>
<rect x="2453.1" y="1529.1" width="182.6" height="199.8" stroke-width="5.8"/>
</g>
<g id="labels" style="opacity:0.999">
<text class="S" transform="translate(502.7,66.3) scale(0.9588,1)">Hot at All Times</text>
<text class="S" transform="translate(290,144) scale(0.946,1)">CONN ID</text>
<text class="S" transform="translate(188.8,179.4) scale(0.946,1)">C1=68 BLK</text>
<text class="S" transform="translate(188.8,213.9) scale(0.946,1)">C2=68 BRN</text>
<text class="S" transform="translate(188.8,248.2) scale(0.946,1)">C3=68 GRY</text>
<text class="S" transform="translate(368.1,179.4) scale(0.946,1)">C4=2 GRY</text>
<text class="S" transform="translate(368.1,213.9) scale(0.946,1)">C5=2 BLK</text>
<text class="S" transform="translate(368.1,248.2) scale(0.946,1)">C6=2 GRN</text>
<text class="S" transform="translate(629.9,154) scale(0.946,1)">IGN</text>
<text class="S" transform="translate(630,188.3) scale(0.946,1)">MAIN 2</text>
<text class="S" transform="translate(630,222.6) scale(0.946,1)">Fuse</text>
<text class="S" transform="translate(630.9,256.9) scale(0.946,1)">60 A</text>
<text class="S" transform="translate(795.2,121.8) scale(0.946,1)">Power</text>
<text class="S" transform="translate(795.2,156.2) scale(0.946,1)">Distribution</text>
<text class="S" transform="translate(796.2,190.5) scale(0.946,1)">Schematics</text>
<text class="S" transform="translate(796,224.8) scale(0.946,1)">in Wiring</text>
<text class="S" transform="translate(796.2,259.1) scale(0.946,1)">Systems</text>
<text class="L" transform="translate(1011.7,112.4) scale(0.991,1)">Fuse</text>
<text class="L" transform="translate(1011.7,154.6) scale(0.991,1)">Block –</text>
<text class="L" transform="translate(1012.4,198.2) scale(0.991,1)">Underhood</text>
<text class="L" transform="translate(554.9,342.8) scale(0.991,1)">B</text>
<text class="L" transform="translate(625.3,342.8) scale(0.991,1)">C4</text>
<text class="L" transform="translate(641.1,394.7) scale(0.991,1)">P100</text>
<text class="L" transform="translate(102.2,414.4) scale(0.991,1)">5 RED</text>
<text class="L" transform="translate(249.5,414.4) scale(0.991,1)">142</text>
<text class="L" transform="translate(468,440.9) scale(0.991,1)">5 RED</text>
<text class="L" transform="translate(617.2,440.9) scale(0.991,1)">142</text>
<text class="L" transform="translate(536,480.7) scale(0.991,1)">A2</text>
<text class="S" transform="translate(170.3,520) scale(0.946,1)">Power</text>
<text class="S" transform="translate(170.3,554.4) scale(0.946,1)">Distribution</text>
<text class="S" transform="translate(171.3,588.6) scale(0.946,1)">Schematics</text>
<text class="S" transform="translate(171.1,622.7) scale(0.946,1)">in Wiring</text>
<text class="S" transform="translate(171.3,656.6) scale(0.946,1)">Systems</text>
<text class="S" transform="translate(1912.8,66.3) scale(0.9569,1)">Hot at All Times</text>
<text class="S" transform="translate(1948.2,173.1) scale(0.946,1)">F7</text>
<text class="S" transform="translate(1948.2,231.5) scale(0.946,1)">F8</text>
<text class="S" transform="translate(2040.5,173.5) scale(0.946,1)">RAP</text>
<text class="S" transform="translate(2040.5,207.5) scale(0.946,1)">Fuse</text>
<text class="S" transform="translate(2039.7,241.5) scale(0.946,1)">10 A</text>
<text class="S" transform="translate(2198.1,122.9) scale(0.946,1)">Power</text>
<text class="S" transform="translate(2198.1,156.9) scale(0.946,1)">Distribution</text>
<text class="S" transform="translate(2199.1,190.9) scale(0.946,1)">Schematics</text>
<text class="S" transform="translate(2198.9,225.4) scale(0.946,1)">in Wiring</text>
<text class="S" transform="translate(2199.1,259.9) scale(0.946,1)">Systems</text>
<text class="L" transform="translate(2421.5,112.6) scale(0.991,1)">Fuse</text>
<text class="L" transform="translate(2421.5,154.9) scale(0.991,1)">Block –</text>
<text class="L" transform="translate(2421.3,197.3) scale(0.991,1)">IP</text>
<text class="L" transform="translate(1821.2,388.8) scale(0.991,1)">0.35 ORN</text>
<text class="L" transform="translate(2028.2,388.8) scale(0.991,1)">540</text>
<text class="L" transform="translate(1938,481) scale(0.991,1)">C2</text>
<text class="M" transform="translate(2869.1,72.6) scale(0.93,1)">L</text>
<text class="M" transform="translate(2888.2,95.1) scale(0.93,1)">O</text>
<text class="M" transform="translate(2909.1,114.5) scale(0.93,1)">C</text>
<text class="M" transform="translate(2862.1,188.6) scale(0.93,1)">D</text>
<text class="M" transform="translate(2882.1,205.4) scale(0.93,1)">E</text>
<text class="M" transform="translate(2899.8,224) scale(0.93,1)">S</text>
<text class="M" transform="translate(2916.1,243.7) scale(0.93,1)">C</text>
<text class="L" transform="translate(2103.8,527.2) scale(0.991,1)">Retained</text>
<text class="L" transform="translate(2106.8,570.4) scale(0.991,1)">Accessory</text>
<text class="L" transform="translate(2103.8,613.2) scale(0.991,1)">Power</text>
<text class="L" transform="translate(2104.7,655.9) scale(0.991,1)">(RAP)</text>
<text class="L" transform="translate(2103.8,698.3) scale(0.991,1)">Relay</text>
<text class="L" transform="translate(512.5,757.5) scale(0.991,1)">C1</text>
<text class="L" transform="translate(383.2,816.7) scale(0.991,1)">5 DK BLU</text>
<text class="L" transform="translate(590,816.7) scale(0.991,1)">75</text>
<text class="L" transform="translate(528.2,942.6) scale(0.991,1)">S220</text>
<text class="L" transform="translate(165.9,968.7) scale(0.991,1)">5 DK BLU</text>
<text class="L" transform="translate(374.9,968.7) scale(0.991,1)">75</text>
<text class="L" transform="translate(1418.5,965.7) scale(0.991,1)">5 DK BLU</text>
<text class="L" transform="translate(1624.9,965.7) scale(0.991,1)">75</text>
<text class="L" transform="translate(1951.5,761) scale(0.991,1)">A1</text>
<text class="L" transform="translate(1835.4,817.6) scale(0.991,1)">0.35 BLK</text>
<text class="L" transform="translate(2028.2,817.6) scale(0.991,1)">707</text>
<text class="L" transform="translate(1941.7,993.4) scale(0.991,1)">D9</text>
<text class="L" transform="translate(2036.1,993.4) scale(0.991,1)">C2</text>
<text class="L" transform="translate(1806.9,1043.2) scale(0.991,1)">Fuse</text>
<text class="L" transform="translate(1806.9,1086.3) scale(0.991,1)">Block –</text>
<text class="L" transform="translate(1806.7,1129.3) scale(0.991,1)">IP</text>
<text class="S" transform="translate(298.7,1117) scale(0.946,1)">H1</text>
<text class="S" transform="translate(295.2,1173.7) scale(0.946,1)">H2</text>
<text class="S" transform="translate(381.5,1111.4) scale(0.946,1)">RADIO</text>
<text class="S" transform="translate(381.5,1145.4) scale(0.946,1)">Fuse</text>
<text class="S" transform="translate(380.7,1179.8) scale(0.946,1)">10 A</text>
<text class="S" transform="translate(721.2,1118.8) scale(0.946,1)">H3</text>
<text class="S" transform="translate(723.2,1176.7) scale(0.946,1)">H4</text>
<text class="S" transform="translate(809.3,1113.6) scale(0.946,1)">SUNROOF</text>
<text class="S" transform="translate(808.3,1147.6) scale(0.946,1)">Fuse</text>
<text class="S" transform="translate(809.3,1181.9) scale(0.946,1)">20 A</text>
<text class="S" transform="translate(1180.2,1118.8) scale(0.946,1)">H5</text>
<text class="S" transform="translate(1182.4,1178) scale(0.946,1)">H6</text>
<text class="S" transform="translate(1269.2,1096.1) scale(0.946,1)">STR WHL</text>
<text class="S" transform="translate(1269.2,1131) scale(0.946,1)">CTRL</text>
<text class="S" transform="translate(1268.2,1164.5) scale(0.946,1)">Fuse</text>
<text class="S" transform="translate(1269.2,1199.4) scale(0.946,1)">2 A</text>
<text class="S" transform="translate(1550,1117.9) scale(0.946,1)">L1</text>
<text class="S" transform="translate(1550,1174.5) scale(0.946,1)">L2</text>
<text class="S" transform="translate(1631.2,1099.2) scale(0.946,1)">PWR WDO</text>
<text class="S" transform="translate(1632.2,1133.6) scale(0.946,1)">Circuit</text>
<text class="S" transform="translate(1631.2,1168) scale(0.946,1)">Breaker</text>
<text class="S" transform="translate(1632.2,1202) scale(0.946,1)">25 A</text>
<text class="S" transform="translate(74.3,1194.4) scale(0.9234,1)">w/OnStar</text>
<text class="L" transform="translate(52.6,1331.8) scale(0.991,1)">0.5</text>
<text class="L" transform="translate(54.2,1374.8) scale(0.991,1)">YEL</text>
<text class="L" transform="translate(162.5,1374.8) scale(0.991,1)">43</text>
<text class="L" transform="translate(268.2,1294) scale(0.991,1)">0.5</text>
<text class="L" transform="translate(269.4,1337) scale(0.991,1)">YEL</text>
<text class="L" transform="translate(376.8,1337) scale(0.991,1)">43</text>
<text class="S" transform="translate(429.7,1331.8) scale(0.9236,1)">(w/OnStar)</text>
<text class="L" transform="translate(265.1,1397.6) scale(0.991,1)">0.35</text>
<text class="L" transform="translate(266.4,1440.6) scale(0.991,1)">YEL</text>
<text class="L" transform="translate(374.4,1440.6) scale(0.991,1)">43</text>
<text class="S" transform="translate(426.8,1435.4) scale(0.9217,1)">(w/o OnStar)</text>
<text class="L" transform="translate(76.9,1480.4) scale(0.991,1)">B3</text>
<text class="L" transform="translate(170.1,1480.4) scale(0.991,1)">C204</text>
<text class="L" transform="translate(49.5,1532.8) scale(0.991,1)">0.35</text>
<text class="L" transform="translate(50.3,1575.8) scale(0.991,1)">YEL</text>
<text class="L" transform="translate(158,1575.8) scale(0.991,1)">43</text>
<text class="L" transform="translate(77.5,1619.6) scale(0.991,1)">B2</text>
<text class="L" transform="translate(170.1,1619.6) scale(0.991,1)">C423</text>
<text class="L" transform="translate(56,1687.6) scale(0.991,1)">0.8</text>
<text class="L" transform="translate(56.8,1730.6) scale(0.991,1)">YEL</text>
<text class="L" transform="translate(165.1,1730.6) scale(0.991,1)">43</text>
<text class="L" transform="translate(64.1,1784.4) scale(0.991,1)">F11</text>
<text class="L" transform="translate(176.1,1784.4) scale(0.991,1)">C2</text>
<text class="L" transform="translate(313.4,1784.4) scale(0.991,1)">9</text>
<text class="L" transform="translate(379.2,1784.4) scale(0.991,1)">C1</text>
<text class="S" transform="translate(94.7,1846.8) scale(0.946,1)">CONN ID</text>
<text class="S" transform="translate(78.1,1888.4) scale(0.946,1)">C1=32 RED</text>
<text class="S" transform="translate(78.1,1920.4) scale(0.946,1)">C2=32 BLU</text>
<text class="L" transform="translate(48.5,1982) scale(1.01,1)">Vehicle</text>
<text class="L" transform="translate(45.4,2025) scale(0.9862,1)">Interface</text>
<text class="L" transform="translate(46.3,2067.8) scale(0.9831,1)">Unit (VIU)</text>
<text class="S" transform="translate(314.6,1850.3) scale(0.946,1)">CONN ID</text>
<text class="S" transform="translate(298,1891.5) scale(0.946,1)">C1=10 BLK</text>
<text class="S" transform="translate(298,1924.3) scale(0.946,1)">C2=10 GRY</text>
<text class="S" transform="translate(298,1958.5) scale(0.946,1)">C3=9 BLK</text>
<text class="L" transform="translate(268.9,2037.8) scale(0.987,1)">Radio</text>
<text class="L" transform="translate(629.4,1254.8) scale(0.991,1)">0.8 YEL</text>
<text class="L" transform="translate(799.9,1254.8) scale(0.991,1)">343</text>
<text class="L" transform="translate(711.7,1292.8) scale(0.991,1)">N8</text>
<text class="L" transform="translate(806.5,1292.8) scale(0.991,1)">C200</text>
<text class="L" transform="translate(629.4,1379.4) scale(0.991,1)">0.8 YEL</text>
<text class="L" transform="translate(799.9,1379.4) scale(0.991,1)">343</text>
<text class="L" transform="translate(731.5,1418.4) scale(0.991,1)">D</text>
<text class="L" transform="translate(804.8,1418.4) scale(0.991,1)">C390</text>
<text class="L" transform="translate(629.2,1476.7) scale(0.991,1)">0.8 YEL</text>
<text class="L" transform="translate(800.1,1476.7) scale(0.991,1)">343</text>
<text class="S" transform="translate(413.1,1554.8) scale(0.946,1)">w/o CF5</text>
<text class="S" transform="translate(669,1553.9) scale(0.946,1)">w/CF5</text>
<text class="L" transform="translate(596.5,1649.8) scale(0.991,1)">S394</text>
<text class="L" transform="translate(429.9,1770.3) scale(0.991,1)">0.8 YEL</text>
<text class="L" transform="translate(600.8,1770.3) scale(0.991,1)">343</text>
<text class="L" transform="translate(613,1819.2) scale(0.991,1)">S395</text>
<text class="L" transform="translate(495.9,1827.2) scale(0.991,1)">0.5</text>
<text class="L" transform="translate(497.6,1870.2) scale(0.991,1)">YEL</text>
<text class="L" transform="translate(603.8,1870.2) scale(0.991,1)">343</text>
<text class="L" transform="translate(523.3,1911.2) scale(0.991,1)">13</text>
<text class="L" transform="translate(650.9,1960) scale(0.991,1)">Inside</text>
<text class="L" transform="translate(651.1,2002.5) scale(0.991,1)">Rearview</text>
<text class="L" transform="translate(651.1,2045.5) scale(0.991,1)">Mirror</text>
<text class="L" transform="translate(776,1700.2) scale(0.991,1)">0.8 YEL</text>
<text class="L" transform="translate(946.5,1700.2) scale(0.991,1)">343</text>
<text class="L" transform="translate(877.9,1759.8) scale(0.991,1)">A</text>
<text class="L" transform="translate(948.6,1759.8) scale(0.991,1)">C398</text>
<text class="L" transform="translate(801,1830.3) scale(0.991,1)">2 PNK</text>
<text class="L" transform="translate(946.5,1830.3) scale(0.991,1)">343</text>
<text class="L" transform="translate(884.3,1882) scale(0.991,1)">B</text>
<text class="L" transform="translate(954.3,1882) scale(0.991,1)">C2</text>
<text class="S" transform="translate(873.8,1949.6) scale(0.946,1)">CONN ID</text>
<text class="S" transform="translate(856.1,1991.4) scale(0.946,1)">C1=8 WHT</text>
<text class="S" transform="translate(856.1,2023.5) scale(0.946,1)">C2=4 BLK</text>
<text class="L" transform="translate(1040.3,1933.6) scale(0.991,1)">Sunroof</text>
<text class="L" transform="translate(1040.3,1976.3) scale(0.991,1)">Module</text>
<text class="S" transform="translate(1059.2,2019.1) scale(0.9172,1)">w/CF5</text>
<text class="L" transform="translate(1062.9,1273.6) scale(1.007,1)">0.35 YEL</text>
<text class="L" transform="translate(1257.7,1273.6) scale(0.991,1)">843</text>
<text class="L" transform="translate(1193,1327.2) scale(0.991,1)">A</text>
<text class="L" transform="translate(1263.8,1327.2) scale(0.991,1)">C205</text>
<text class="L" transform="translate(1086.5,1495.4) scale(0.991,1)">0.5 YEL</text>
<text class="L" transform="translate(1257.7,1495.4) scale(0.991,1)">843</text>
<text class="L" transform="translate(1338.9,1617.7) scale(0.991,1)">Inflatable</text>
<text class="L" transform="translate(1339.1,1660.7) scale(0.991,1)">Restraint</text>
<text class="L" transform="translate(1340.8,1703.6) scale(0.991,1)">Steering</text>
<text class="L" transform="translate(1342,1746.7) scale(0.991,1)">Wheel</text>
<text class="L" transform="translate(1339.1,1789.8) scale(0.991,1)">Module</text>
<text class="L" transform="translate(1340.8,1831.5) scale(0.991,1)">Coil</text>
<text class="L" transform="translate(1086.3,1746.7) scale(0.991,1)">0.5 YEL</text>
<text class="L" transform="translate(1258,1746.7) scale(0.991,1)">843</text>
<text class="L" transform="translate(1192.1,1792.7) scale(0.991,1)">A</text>
<text class="L" transform="translate(1140.7,1869.8) scale(0.991,1)">GRY</text>
<text class="L" transform="translate(1258.1,1869.8) scale(0.991,1)">843</text>
<text class="L" transform="translate(1305.7,1931.1) scale(0.991,1)">Steering Wheel</text>
<text class="L" transform="translate(1305.7,1974) scale(0.991,1)">Controls –</text>
<text class="L" transform="translate(1304,2016.6) scale(0.991,1)">Left</text>
<text class="S" transform="translate(1324.8,2063.7) scale(0.946,1)">w/UK3</text>
<text class="L" transform="translate(1482,1259.7) scale(0.991,1)">2 YEL</text>
<text class="L" transform="translate(1619.1,1259.7) scale(0.991,1)">143</text>
<text class="L" transform="translate(1533,1302.4) scale(0.991,1)">H8</text>
<text class="L" transform="translate(1627.5,1302.4) scale(0.991,1)">C200</text>
<text class="L" transform="translate(1482.2,1369.9) scale(0.991,1)">2 YEL</text>
<text class="L" transform="translate(1619.8,1369.9) scale(0.991,1)">143</text>
<text class="S" transform="translate(1358.8,1388.5) scale(0.946,1)">4 Door</text>
<text class="S" transform="translate(1749.6,1388.5) scale(0.946,1)">2 Door</text>
<text class="L" transform="translate(1672,1494.8) scale(0.991,1)">S310</text>
<text class="L" transform="translate(1650.8,1649.8) scale(0.991,1)">2 YEL</text>
<text class="L" transform="translate(1787.3,1649.8) scale(0.991,1)">143</text>
<text class="L" transform="translate(1699.2,1713) scale(0.991,1)">D4</text>
<text class="L" transform="translate(1794.8,1713) scale(0.991,1)">C301</text>
<text class="L" transform="translate(1650.8,1779.9) scale(0.991,1)">2 YEL</text>
<text class="L" transform="translate(1787.3,1779.9) scale(0.991,1)">143</text>
<text class="L" transform="translate(1814.5,1822) scale(0.991,1)">P500</text>
<text class="L" transform="translate(1719.7,1864.5) scale(0.991,1)">H</text>
<text class="S" transform="translate(1850,1858.8) scale(0.9127,1)">(2 Door)</text>
<text class="L" transform="translate(1721.8,1903.9) scale(0.991,1)">C</text>
<text class="L" transform="translate(1794.4,1903.9) scale(0.991,1)">C1</text>
<text class="S" transform="translate(1850.9,1899.2) scale(0.9201,1)">(4 Door)</text>
<text class="S" transform="translate(1717.9,1969.5) scale(0.946,1)">CONN ID</text>
<text class="S" transform="translate(1701.2,2011.1) scale(0.946,1)">C1=6 BLK</text>
<text class="S" transform="translate(1701.2,2043.1) scale(0.946,1)">C2=8 BLK</text>
<text class="L" transform="translate(1895.5,1953) scale(0.991,1)">Window</text>
<text class="L" transform="translate(1894.3,1996.8) scale(0.991,1)">Switch –</text>
<text class="L" transform="translate(1892.6,2038.5) scale(0.991,1)">Driver</text>
<text class="L" transform="translate(2013.2,1522.8) scale(0.991,1)">2 YEL</text>
<text class="L" transform="translate(2151,1522.8) scale(0.991,1)">143</text>
<text class="L" transform="translate(2063.9,1592.9) scale(0.991,1)">D4</text>
<text class="L" transform="translate(2158.1,1592.9) scale(0.991,1)">C302</text>
<text class="L" transform="translate(2013.2,1676.1) scale(0.991,1)">2 YEL</text>
<text class="L" transform="translate(2151,1676.1) scale(0.991,1)">143</text>
<text class="L" transform="translate(2178.9,1734) scale(0.991,1)">P600</text>
<text class="L" transform="translate(2089.5,1783.5) scale(0.991,1)">F</text>
<text class="L" transform="translate(2084.4,1983) scale(0.991,1)">Window</text>
<text class="L" transform="translate(2083.2,2024.6) scale(0.991,1)">Switch –</text>
<text class="L" transform="translate(2081.5,2069.3) scale(0.991,1)">Front Passenger</text>
<text class="L" transform="translate(2812.2,1044.3) scale(0.991,1)">Body</text>
<text class="L" transform="translate(2813.9,1087.3) scale(0.991,1)">Control</text>
<text class="L" transform="translate(2812.2,1130.5) scale(0.991,1)">Module</text>
<text class="L" transform="translate(2813.1,1173) scale(0.991,1)">(BCM)</text>
<text class="S" transform="translate(2071.7,1068.2) scale(0.946,1)">Rap</text>
<text class="S" transform="translate(2071.7,1102.4) scale(0.946,1)">Relay</text>
<text class="S" transform="translate(2072.7,1137.1) scale(0.946,1)">Coil</text>
<text class="S" transform="translate(2072.7,1171.5) scale(0.946,1)">Control</text>
<text class="S" transform="translate(2183.8,1070.5) scale(0.946,1)">Drivers</text>
<text class="S" transform="translate(2183.8,1104.5) scale(0.946,1)">Door</text>
<text class="S" transform="translate(2184.8,1138.8) scale(0.946,1)">Switch</text>
<text class="S" transform="translate(2184.8,1172.6) scale(0.946,1)">Signal</text>
<text class="S" transform="translate(2410.8,1093.4) scale(0.946,1)">CONN ID</text>
<text class="S" transform="translate(2393.5,1135.4) scale(0.946,1)">C1=8 NAT</text>
<text class="S" transform="translate(2393.5,1167.6) scale(0.946,1)">C2=32 BLU</text>
<text class="S" transform="translate(2575.6,1082.5) scale(0.946,1)">Door</text>
<text class="S" transform="translate(2576.6,1116.6) scale(0.946,1)">Open</text>
<text class="S" transform="translate(2576.6,1150.6) scale(0.946,1)">Switch</text>
<text class="S" transform="translate(2576.6,1185.1) scale(0.946,1)">Signal</text>
<text class="L" transform="translate(2270.5,1269.5) scale(0.991,1)">C1</text>
<text class="L" transform="translate(2677.3,1269.5) scale(0.991,1)">C3</text>
<text class="L" transform="translate(2770.6,1269.5) scale(0.991,1)">C2</text>
<text class="L" transform="translate(2148.9,1344.6) scale(1.02,1)">0.35 TAN</text>
<text class="L" transform="translate(2346.2,1344.6) scale(0.991,1)">159</text>
<text class="L" transform="translate(2501.5,1342.4) scale(0.991,1)">0.35 DK BLU</text>
<text class="L" transform="translate(2764.6,1342.4) scale(0.991,1)">49</text>
<text class="S" transform="translate(2472.3,1564.2) scale(0.946,1)">Interior</text>
<text class="S" transform="translate(2472.4,1598.4) scale(0.946,1)">Lights</text>
<text class="S" transform="translate(2473.4,1632.6) scale(0.946,1)">Schematics</text>
<text class="S" transform="translate(2473.2,1666.7) scale(0.946,1)">in Lighting</text>
<text class="S" transform="translate(2473.4,1700.9) scale(0.946,1)">Systems</text>
</g>
</svg>
</body>
</html>
